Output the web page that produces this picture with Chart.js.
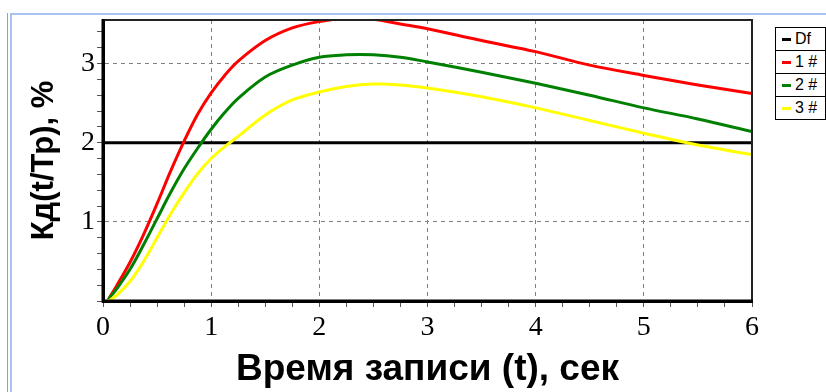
<!DOCTYPE html>
<html>
<head>
<meta charset="utf-8">
<script src="https://cdn.jsdelivr.net/npm/chart.js@4/dist/chart.umd.min.js"></script>
<style>
  body { margin: 0; background: #fff; }
  #wrap { position: relative; width: 826px; height: 392px; overflow: hidden; }
  #frameGray { position: absolute; left: 7px; top: 13px; width: 1px; bottom: 0; background: #a0a0a0; }
  #frameBlue { position: absolute; left: 10px; top: 13px; right: 0; bottom: -4px;
               border-top: 2px solid #a9c4ee; border-left: 2px solid #a9c4ee; }
  canvas { position: absolute; left: 0; top: 0; }
  #legend { position: absolute; left: 775px; top: 27px; border-collapse: collapse;
            font: 16px "Liberation Sans", Arial, sans-serif; background: #fff; }
  #legend td { border: 1px solid #000; height: 22px; width: 47px; padding: 0 0 0 6px; white-space: nowrap; }
  #legend i { display: inline-block; width: 9px; height: 3px; vertical-align: middle; margin-right: 4px; }
</style>
</head>
<body>
<div id="wrap">
  <div id="frameGray"></div>
  <div id="frameBlue"></div>
  <canvas id="kdChart" width="826" height="392"></canvas>
  <table id="legend"></table>
</div>
<script>
// =========================
// данные графика
// =========================
const timeSec = [0.05, 0.125, 0.25, 0.375, 0.5, 0.625, 0.75, 0.875, 1, 1.125, 1.25, 1.5, 1.75,
                 2, 2.25, 2.5, 2.75, 3, 3.5, 4, 4.5, 5, 5.5, 6];
const kd1 = [0.02, 0.19, 0.49, 0.84, 1.23, 1.64, 2.02, 2.36, 2.63, 2.85, 3.03, 3.29, 3.45,
             3.53, 3.57, 3.56, 3.5, 3.44, 3.29, 3.15, 2.98, 2.85, 2.73, 2.62];
const kd2 = [0.02, 0.15, 0.4, 0.71, 1.04, 1.37, 1.67, 1.93, 2.17, 2.38, 2.56, 2.83, 2.98,
             3.08, 3.11, 3.11, 3.08, 3.02, 2.89, 2.75, 2.6, 2.44, 2.3, 2.14];
const kd3 = [0.0, 0.07, 0.25, 0.5, 0.8, 1.1, 1.37, 1.61, 1.8, 1.95, 2.08, 2.35, 2.54,
             2.64, 2.71, 2.74, 2.73, 2.69, 2.58, 2.44, 2.28, 2.12, 1.97, 1.85];
const dfTime = [0, 6];
const dfValue = [2, 2];
const seriesNames = ['Df', '1 #', '2 #', '3 #'];
const seriesColors = ['#000000', '#ff0000', '#008000', '#ffff00'];

const toPoints = (xs, ys) => xs.map((x, i) => ({ x: x, y: ys[i] }));
const isWhole = (v) => Math.abs(v - Math.round(v)) < 1e-6;

// рамка вокруг области построения
const framePlugin = {
    id: 'frame',
    afterDraw(chart) {
        const a = chart.chartArea;
        const c = chart.ctx;
        c.save();
        c.strokeStyle = '#222';
        c.lineWidth = 2;
        c.beginPath();
        c.moveTo(a.left, a.top);
        c.lineTo(a.right, a.top);
        c.lineTo(a.right, a.bottom);
        c.stroke();
        c.strokeStyle = '#000';
        c.lineWidth = 3;
        c.beginPath();
        c.moveTo(a.left, a.top - 1);
        c.lineTo(a.left, a.bottom);
        c.lineTo(a.right + 1, a.bottom);
        c.stroke();
        c.restore();
    }
};

const gridColor = (ctx, maxVal) => {
    const v = ctx.tick ? ctx.tick.value : 0;
    return isWhole(v) && v > 0.001 && v < maxVal - 0.01 ? '#808080' : 'rgba(0,0,0,0)';
};

const dataSets = [
    { label: seriesNames[0], data: toPoints(dfTime, dfValue), order: 5 },
    { label: seriesNames[1], data: toPoints(timeSec, kd1), order: 3 },
    { label: seriesNames[2], data: toPoints(timeSec, kd2), order: 2 },
    { label: seriesNames[3], data: toPoints(timeSec, kd3), order: 1 }
].map((d, i) => Object.assign(d, {
    borderColor: seriesColors[i],
    backgroundColor: seriesColors[i],
    borderWidth: 3,
    pointRadius: 0,
    tension: 0.35,
    fill: false
}));

const ctx = document.getElementById('kdChart').getContext('2d');
const chart = new Chart(ctx, {
    type: 'line',
    data: { datasets: dataSets },
    options: {
        responsive: false,
        animation: false,
        layout: { padding: { top: 20, right: 74, left: 0, bottom: 0 } },
        plugins: { legend: { display: false }, tooltip: { enabled: false } },
        scales: {
            x: {
                type: 'linear', min: 0, max: 6,
                afterFit(s) { s.height = 91; },
                ticks: {
                    stepSize: 0.25, autoSkip: false, maxRotation: 0, padding: 4,
                    color: '#000',
                    font: { family: '"Liberation Serif", "Times New Roman", serif', size: 28 },
                    callback: (v) => isWhole(v) ? String(Math.round(v)) : ''
                },
                grid: {
                    color: (c) => gridColor(c, 6), lineWidth: 1,
                    tickColor: '#555', tickLength: 6, tickWidth: 1
                },
                border: { color: '#000', width: 3, dash: [4, 4] },
                title: {
                    display: true, text: 'Время записи (t), сек', color: '#000',
                    font: { family: '"Liberation Sans", Arial, sans-serif', size: 37, weight: 'bold' },
                    padding: { top: 0, bottom: 0 }
                }
            },
            y: {
                type: 'linear', min: 0, max: 3.55,
                afterFit(s) { s.width = 103; },
                ticks: {
                    stepSize: 0.2, autoSkip: false, includeBounds: false, padding: 2,
                    color: '#000',
                    font: { family: '"Liberation Serif", "Times New Roman", serif', size: 28 },
                    callback: (v) => isWhole(v) && v > 0 ? String(Math.round(v)) : ''
                },
                grid: {
                    color: (c) => gridColor(c, 3.55), lineWidth: 1,
                    tickColor: '#555', tickLength: 6, tickWidth: 1
                },
                border: { color: '#000', width: 3, dash: [4, 4] },
                title: {
                    display: true, text: 'Кд(t/Тр), %', color: '#000',
                    font: { family: '"Liberation Sans", Arial, sans-serif', size: 31, weight: 'bold' },
                    padding: { top: 26, bottom: 0 }
                }
            }
        }
    },
    plugins: [framePlugin]
});

// легенда справа
document.getElementById('legend').innerHTML = chart.data.datasets.map((d) =>
    '<tr><td><i style="background:' + d.borderColor + '"></i>' + d.label + '</td></tr>'
).join('');
</script>
</body>
</html>
